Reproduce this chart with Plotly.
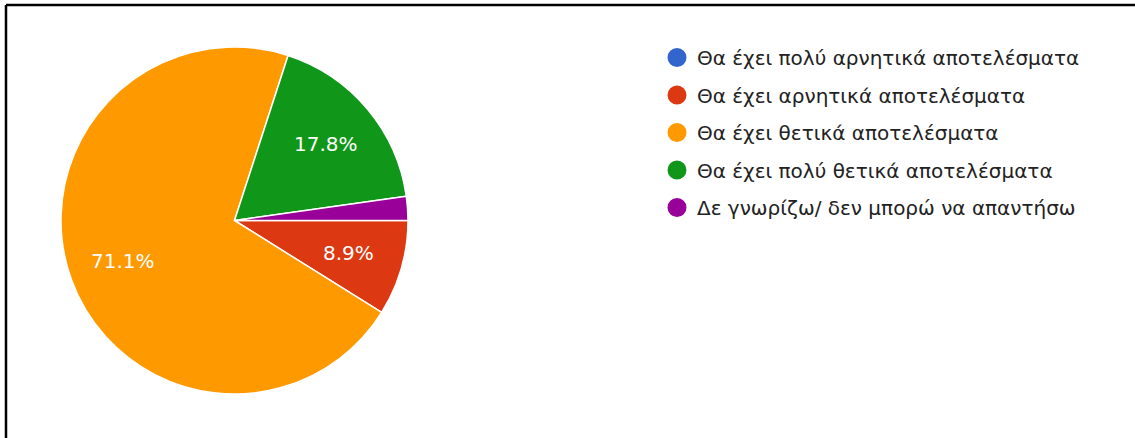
import math
import plotly.graph_objects as go

labels = [
    "Θα έχει πολύ αρνητικά αποτελέσματα",
    "Θα έχει αρνητικά αποτελέσματα",
    "Θα έχει θετικά αποτελέσματα",
    "Θα έχει πολύ θετικά αποτελέσματα",
    "Δε γνωρίζω/ δεν μπορώ να απαντήσω",
]
counts = [0, 4, 32, 8, 1]
colors = ["#3366CC", "#DC3912", "#FF9900", "#109618", "#990099"]

W, H = 1135, 438
total = sum(counts)

# pie domain (paper fractions)
dom_x = [61 / W, 408 / W]
dom_y = [1 - 394 / H, 1 - 47 / H]

fig = go.Figure()
fig.add_trace(go.Pie(
    labels=labels, values=counts, sort=False, direction="clockwise", rotation=90,
    marker=dict(colors=colors, line=dict(color="white", width=1.5)),
    textinfo="none", showlegend=False, hoverinfo="label+percent",
    domain=dict(x=dom_x, y=dom_y),
))

# percentage labels placed along each slice's bisector
cx_px = (dom_x[0] + dom_x[1]) / 2 * W
cy_px = (1 - (dom_y[0] + dom_y[1]) / 2) * H
r_px = min((dom_x[1] - dom_x[0]) * W, (dom_y[1] - dom_y[0]) * H) / 2
cum = 0.0
for c in counts:
    frac = c / total
    if frac >= 0.05:
        mid = (cum + frac / 2) * 2 * math.pi  # clockwise from 3 o'clock
        x_px = cx_px + 0.685 * r_px * math.cos(mid)
        y_px = cy_px + 0.685 * r_px * math.sin(mid)
        fig.add_annotation(
            x=x_px / W, y=1 - y_px / H, xref="paper", yref="paper",
            xanchor="center", yanchor="middle",
            text=f"{frac * 100:.1f}%", showarrow=False,
            font=dict(family="DejaVu Sans", size=20, color="white"),
        )
    cum += frac

for i, (lab, col) in enumerate(zip(labels, colors)):
    fig.add_trace(go.Scatter(
        x=[None], y=[None], mode="markers", name=lab, legendgroup=str(i),
        marker=dict(symbol="circle", size=16, color=col, line=dict(color=col, width=3)),
        showlegend=True,
    ))

fig.update_layout(
    width=W, height=H, margin=dict(l=0, r=0, t=0, b=0),
    paper_bgcolor="white", plot_bgcolor="white",
    xaxis=dict(visible=False), yaxis=dict(visible=False),
    legend=dict(x=657 / W, y=1 - 38 / H, xanchor="left", yanchor="top",
                font=dict(family="DejaVu Sans", size=20, color="#222222"),
                tracegroupgap=8.5, itemsizing="trace", bgcolor="rgba(0,0,0,0)"),
    shapes=[
        dict(type="line", xref="paper", yref="paper", x0=6 / W, x1=1, y0=1 - 5 / H, y1=1 - 5 / H,
             line=dict(color="black", width=2.5)),
        dict(type="line", xref="paper", yref="paper", x0=6 / W, x1=6 / W, y0=0, y1=1 - 5 / H,
             line=dict(color="black", width=2.5)),
    ],
)
fig.write_html("out.html", config={"displayModeBar": False},
               post_script="document.body.style.margin='0';")
